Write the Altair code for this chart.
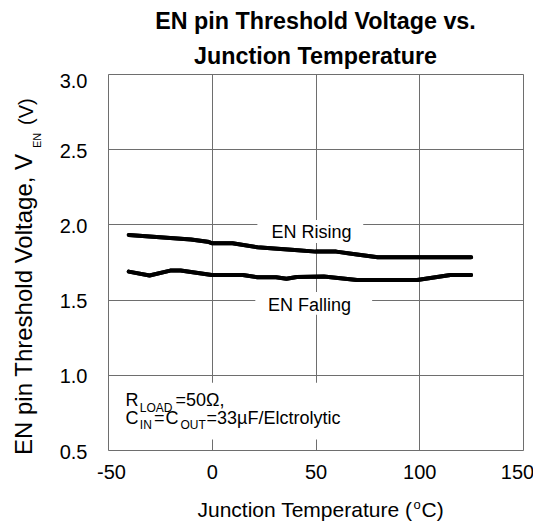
import altair as alt
import pandas as pd

# ---- data ----
rise_T = [-40, -30, -20, -10, -2, 0, 10, 22, 30, 40, 50, 60, 70, 80, 90, 100, 110, 125]
rise_V = [1.93, 1.92, 1.91, 1.90, 1.885, 1.875, 1.875, 1.848, 1.84, 1.83, 1.819, 1.819, 1.80, 1.782, 1.782, 1.782, 1.782, 1.782]

fall_T = [-40, -30, -20, -15, 0, 15, 22, 31, 36, 41, 54, 70, 99, 115, 125]
fall_V = [1.686, 1.66, 1.693, 1.693, 1.664, 1.664, 1.649, 1.649, 1.638, 1.65, 1.653, 1.631, 1.631, 1.664, 1.664]

x_ticks = [-50, 0, 50, 100, 150]
y_ticks = [0.5, 1.0, 1.5, 2.0, 2.5, 3.0]

FONT = "Liberation Sans"

df = pd.concat([
    pd.DataFrame({"T": rise_T, "V": rise_V, "s": "EN Rising"}),
    pd.DataFrame({"T": fall_T, "V": fall_V, "s": "EN Falling"}),
])

xs = alt.Scale(domain=[-50, 150], nice=False, zero=False)
ys = alt.Scale(domain=[0.5, 3.0], nice=False, zero=False)

W, H = 415, 376

base = alt.Chart(df)

lines = base.mark_line(color="black", strokeWidth=4, strokeJoin="round", strokeCap="round").encode(
    x=alt.X("T:Q", scale=xs, axis=alt.Axis(
        values=x_ticks, title=None, grid=True, gridColor="#6e6e6e", gridWidth=1,
        domain=False, ticks=False, tickSize=0, labelFont=FONT, labelFontSize=20, labelColor="black",
        labelPadding=12, labelExpr="'' + datum.value", labelFlush=False,
        labelOffset={"condition": [{"test": "datum.value == 150", "value": -6},
                                   {"test": "datum.value == -50", "value": 3}], "value": 0})),
    y=alt.Y("V:Q", scale=ys, axis=alt.Axis(
        values=y_ticks, title=None, grid=True, gridColor="#6e6e6e", gridWidth=1,
        domain=False, ticks=False, tickSize=0, format=".1f", labelFont=FONT, labelFontSize=20,
        labelColor="black", labelPadding=21, labelFlush=False,
        labelOffset={"condition": {"test": "datum.value == 3", "value": 7}, "value": 2})),
    detail="s:N",
)

# white boxes behind the labels (cover the grid)
boxes = pd.DataFrame({
    "x1": [22.0, 21.0, -49.3],
    "x2": [73.0, 77.3, 86.0],
    "y1": [2.030, 1.551, 0.947],
    "y2": [1.877, 1.399, 0.57],
})
rects = alt.Chart(boxes).mark_rect(color="white").encode(
    x=alt.X("x1:Q", scale=xs), x2="x2:Q", y=alt.Y("y1:Q", scale=ys), y2="y2:Q")

labels = pd.DataFrame({"T": [48.1, 47.1], "V": [1.910, 1.427], "t": ["EN Rising", "EN Falling"]})
lab = alt.Chart(labels).mark_text(font=FONT, fontSize=18, align="center", baseline="alphabetic",
                                   color="black").encode(
    x=alt.X("T:Q", scale=xs), y=alt.Y("V:Q", scale=ys), text="t:N")

def txt(s, x, y, size, angle=0, align="left"):
    kw = dict(font=FONT, fontSize=size, align=align, baseline="alphabetic", color="black")
    if angle:
        kw["angle"] = angle
    return alt.Chart(pd.DataFrame({"t": [s]})).mark_text(**kw).encode(
        x=alt.value(x), y=alt.value(y), text="t:N")

# annotation (plot pixel coordinates: page - (107.5, 74))
ann = [
    txt("R", 17.5, 332, 18),
    txt("LOAD", 31.8, 338, 12),
    txt("=50\u03a9,", 67.5, 332, 18),
    txt("C", 17.5, 350, 18),
    txt("IN", 31.8, 355, 12),
    txt("=", 46, 350, 18),
    txt("C", 57.5, 350, 18),
    txt("OUT", 72.5, 355, 12),
    txt("=33\u00b5F/Elctrolytic", 98.5, 350, 18),
]

# axis titles built from text pieces (for sub/superscripts)
xt = [
    txt("Junction Temperature (", 89.5, 443, 21),
    txt("o", 305.5, 435, 13),
    txt("C)", 313.5, 443, 21),
]
yt = [
    txt("EN pin Threshold Voltage, V", -76, 381, 24, angle=270),
    txt("EN", -67, 74, 11, angle=270),
    txt("(V)", -75, 51, 20, angle=270),
]

chart = alt.layer(lines, rects, lines, lab, *ann, *xt, *yt).properties(
    width=W, height=H,
    title=alt.TitleParams(
        text=["EN pin Threshold Voltage vs.", "Junction Temperature"],
        font=FONT, fontSize=23.3, fontWeight="bold", color="black",
        anchor="middle", lineHeight=35, offset=2),
    autosize=alt.AutoSizeParams(type="none"),
    padding={"left": 100, "top": 66, "right": 10, "bottom": 71},
).configure_view(stroke="black", strokeWidth=2.5).configure(background="white")

chart.save("out.html", embed_options={"renderer": "svg", "actions": False})
